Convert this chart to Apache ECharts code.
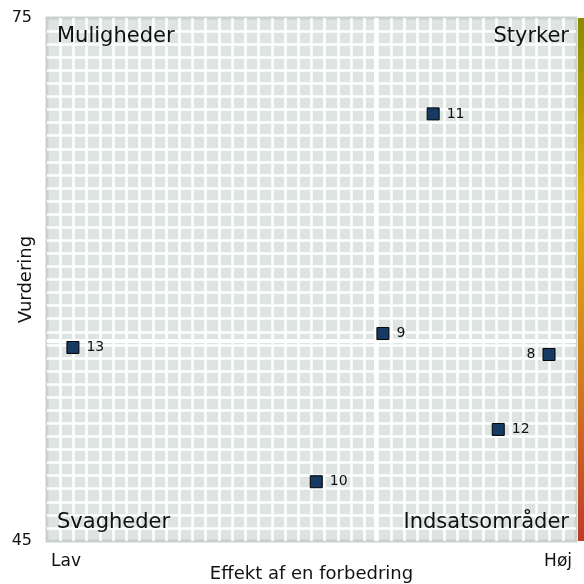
<!DOCTYPE html>
<html>
<head>
<meta charset="UTF-8">
<title></title>
<script src="https://cdn.jsdelivr.net/npm/echarts@6/dist/echarts.min.js"></script>
<style>
* { padding: 0; margin: 0; }
#main { width: 584px; height: 584px; }
</style>
</head>
<body>
<div id="main"></div>
<script>
// point labels and positions (x: effect 0..100 from Lav to Høj, y: rating)
var labels = ['11', '9', '13', '8', '12', '10'];
var effekt = [73.0, 63.5, 4.9, 94.9, 85.3, 50.9];
var vurdering = [69.5, 56.9, 56.1, 55.7, 51.4, 48.4];
var labelSide = ['right', 'right', 'right', 'left', 'right', 'right'];
// quadrant split (x, y)
var split = [62.1, 56.5];
var yRange = [45, 75];
var xEnds = ['Lav', 'Høj'];
var quadrants = ['Muligheder', 'Styrker', 'Svagheder', 'Indsatsområder'];

var font = 'DejaVu Sans';
var chart = echarts.init(document.getElementById('main'));

var points = labels.map(function (l, i) {
  return { value: [effekt[i], vurdering[i]], name: l, label: { position: labelSide[i] } };
});

chart.setOption({
  textStyle: { fontFamily: font },
  grid: {
    left: 47, top: 18, right: 8, bottom: 43,
    outerBoundsMode: 'none',
    containLabel: false,
    show: true,
    backgroundColor: '#dee4e1',
    borderColor: '#c8d2cb',
    borderWidth: 3
  },
  xAxis: {
    type: 'value', min: 0, max: 100, interval: 2.5,
    name: 'Effekt af en forbedring', nameLocation: 'middle', nameGap: 24,
    nameMoveOverlap: false,
    nameTextStyle: { fontSize: 18, color: '#111' },
    axisLine: { show: false }, axisTick: { show: false },
    axisLabel: {
      fontSize: 17, color: '#111', margin: 12,
      alignMinLabel: 'left', alignMaxLabel: 'right',
      showMinLabel: true, showMaxLabel: true,
      padding: [0, 4, 0, 4],
      formatter: function (v) { return v === 0 ? xEnds[0] : (v === 100 ? xEnds[1] : ''); }
    },
    splitLine: { show: true, showMinLine: false, showMaxLine: false, lineStyle: { color: '#fff', width: 2.5 } }
  },
  yAxis: {
    type: 'value', min: yRange[0], max: yRange[1], interval: 0.75,
    name: 'Vurdering', nameLocation: 'middle', nameGap: 12,
    nameMoveOverlap: false,
    nameTextStyle: { fontSize: 18, color: '#111' },
    axisLine: { show: false }, axisTick: { show: false },
    axisLabel: {
      fontSize: 16, color: '#111', margin: 15,
      showMinLabel: true, showMaxLabel: true,
      formatter: function (v) { return (v === yRange[0] || v === yRange[1]) ? v : ''; }
    },
    splitLine: { show: true, showMinLine: false, showMaxLine: false, lineStyle: { color: '#fff', width: 2.5 } }
  },
  graphic: [
    { type: 'text', z: 100, left: 57, top: 26, style: { text: quadrants[0], fontSize: 21, fill: '#111', fontFamily: font } },
    { type: 'text', z: 100, right: 15, top: 26, style: { text: quadrants[1], fontSize: 21, fill: '#111', fontFamily: font } },
    { type: 'text', z: 100, left: 57, top: 512, style: { text: quadrants[2], fontSize: 21, fill: '#111', fontFamily: font } },
    { type: 'text', z: 100, right: 15, top: 512, style: { text: quadrants[3], fontSize: 21, fill: '#111', fontFamily: font } },
    {
      type: 'rect', z: 100, left: 578, top: 18,
      shape: { width: 6, height: 523 },
      style: {
        fill: new echarts.graphic.LinearGradient(0, 0, 0, 1, [
          { offset: 0, color: '#8a8a00' },
          { offset: 0.35, color: '#e0b010' },
          { offset: 0.7, color: '#d07a20' },
          { offset: 1, color: '#c0392b' }
        ])
      }
    }
  ],
  series: [{
    type: 'scatter',
    data: points,
    symbol: 'rect',
    symbolSize: 12,
    z: 3,
    itemStyle: { color: '#173a63', borderColor: '#000', borderWidth: 1, opacity: 1 },
    label: {
      show: true, distance: 7,
      fontSize: 14, color: '#111',
      formatter: '{b}'
    },
    markLine: {
      silent: true, symbol: 'none', z: 1,
      label: { show: false },
      lineStyle: { color: '#fff', width: 4, type: 'solid' },
      data: [{ xAxis: split[0] }, { yAxis: split[1] }]
    }
  }]
});
</script>
</body>
</html>
